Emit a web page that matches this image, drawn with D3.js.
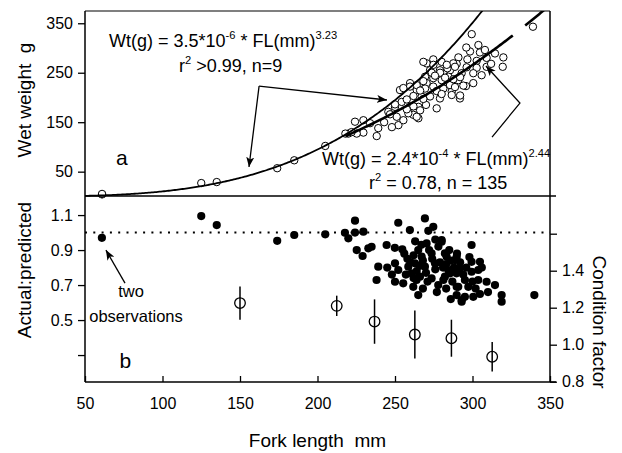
<!DOCTYPE html>
<html>
<head>
<meta charset="utf-8">
<script src="https://cdn.jsdelivr.net/npm/d3@7"></script>
<style>
  body { margin: 0; background: #fff; }
  svg text { font-family: "Liberation Sans", Arial, Helvetica, sans-serif; fill: #000; }
</style>
</head>
<body>
<svg id="chart" width="622" height="453"></svg>
<script>
// fork length (mm) vs wet weight (g), the n=9 set
var smallFish = [[61, 4], [61, 5], [125, 27], [135, 29], [174, 57], [185, 73], [205, 102], [218, 127], [222, 130]];
// the n=135 set
var bigFish = [
  [299.5, 328], [303.8, 306], [298.4, 293], [304.8, 291], [314.5, 289], [319.9, 281], [319.5, 262],
  [309.1, 280], [302.7, 274], [296.7, 277], [290.9, 281], [289.8, 268], [296.2, 261], [302.7, 260],
  [305.9, 245], [300.5, 229], [295.8, 223], [290.9, 235], [285.5, 255], [280.1, 272], [274.7, 277],
  [270.4, 269], [272.6, 255], [279.0, 255], [284.4, 242], [280.1, 235], [274.7, 239], [270.4, 229],
  [266.1, 229], [264.0, 215], [269.4, 218], [274.7, 222], [281.2, 218], [286.6, 212], [291.9, 198],
  [279.0, 198], [272.6, 202], [267.2, 202], [260.7, 195], [265.1, 181], [259.7, 181], [261.8, 165],
  [265.1, 158], [258.6, 168], [254.3, 191], [253.2, 215], [259.7, 229], [250.0, 181], [251.1, 161],
  [252.2, 144], [255.4, 154], [245.7, 171], [239.2, 138], [238.2, 122], [233.9, 148], [229.6, 154],
  [229.6, 129], [224.2, 151], [225.3, 127], [219.9, 127], [276.9, 178], [270.0, 185], [285.5, 225],
  [293.0, 249], [287.6, 269], [283.8, 259], [309.1, 262], [300.5, 249], [339, 343],
  [268.3, 272], [274.8, 266], [283.4, 266], [288.7, 262], [279.1, 250], [273.7, 250], [269.4, 242],
  [275.8, 244], [282.3, 240], [287.7, 237], [292, 241], [268.3, 233], [264, 225], [259.7, 222],
  [255.4, 219], [266.2, 214], [276.9, 213], [288.7, 221], [294.1, 224], [292, 204], [286.6, 205],
  [280.1, 207], [268.3, 197], [261.9, 203], [257.6, 196], [250, 186], [246.8, 166], [261.9, 182],
  [266.2, 174], [257.6, 176], [264, 161], [312, 268], [308, 296], [296, 301], [243, 150], [248, 140]
];
// actual:predicted, panel b
var ratioPts = [
  [60.9, 0.97], [125, 1.094], [135, 1.043], [174, 0.953], [185, 0.986], [205, 0.99],
  [217.7, 0.999], [224.2, 1.068], [219.9, 0.967], [224.2, 1.0], [229.6, 1.005], [225.3, 0.9],
  [229.1, 0.866], [232.8, 0.91], [252.1, 1.056], [259.6, 1.014], [269.3, 1.081], [274.7, 1.033],
  [271.5, 1.01], [234.9, 0.919], [244.6, 0.929], [249.9, 0.913], [254.7, 0.904], [239.2, 0.805],
  [238.1, 0.729], [250, 0.824], [252.1, 0.786], [250, 0.719], [255.3, 0.71], [265, 0.9],
  [270.4, 0.938], [280.1, 0.957], [262.9, 0.824], [267.2, 0.862], [273.6, 0.881], [282.2, 0.881],
  [288.7, 0.843], [260.7, 0.767], [266.1, 0.748], [261.8, 0.69], [265, 0.643], [273.6, 0.738],
  [277.9, 0.7], [284.4, 0.786], [290.8, 0.69], [293, 0.614], [258.6, 0.805], [269.3, 0.805],
  [275.8, 0.824], [263.9, 0.729], [282.2, 0.748], [289.7, 0.767], [280.1, 0.948], [299.4, 0.929],
  [283.3, 0.862], [289.8, 0.862], [299.4, 0.833], [304.8, 0.833], [291.9, 0.795], [299.4, 0.776],
  [303.7, 0.786], [285.5, 0.767], [281.2, 0.729], [295.1, 0.729], [303.7, 0.729], [309.1, 0.719],
  [314.5, 0.7], [289.8, 0.69], [297.3, 0.69], [289.8, 0.643], [295.1, 0.633], [300.5, 0.633],
  [304.8, 0.649], [293, 0.605], [318.8, 0.643], [318.8, 0.605], [339.9, 0.643],
  [256, 0.88], [258, 0.85], [260, 0.83], [262, 0.87], [264, 0.78], [266, 0.81], [268, 0.84],
  [270, 0.77], [272, 0.9], [274, 0.85], [276, 0.79], [278, 0.92], [279, 0.83], [281, 0.8],
  [283, 0.82], [285, 0.9], [286, 0.84], [287, 0.72], [288, 0.8], [290, 0.88], [292, 0.83],
  [294, 0.76], [296, 0.8], [298, 0.86], [300, 0.72], [302, 0.68], [306, 0.8], [310, 0.66],
  [271, 0.72], [268, 0.68], [262, 0.74], [257, 0.76], [277, 0.66], [283, 0.68], [286, 0.62],
  [263, 0.95], [267, 0.93], [276, 0.96], [245, 0.8], [248, 0.76]
];
// condition factor by length class (mean, half-range)
var cfFL = [150, 212.4, 236.8, 262.8, 286.4, 312.7];
var cfMean = [1.225, 1.21, 1.125, 1.055, 1.035, 0.935];
var cfErr = [0.09, 0.055, 0.12, 0.13, 0.10, 0.08];

var xTicks = [50, 100, 150, 200, 250, 300, 350];
var wtTicks = [50, 150, 250, 350];
var ratioTicks = [1.1, 0.9, 0.7, 0.5, 0.3];
var cfTicks = [0.8, 1.0, 1.2, 1.4, 1.6];

var fitSmall = { a: 3.5e-6, b: 3.23 };
var fitBig = { a: 2.4e-4, b: 2.44 };

var pLeft = 85, pRight = 550, pTop = 11, pMid = 196, pBottom = 382;

var svg = d3.select('#chart');

var x = d3.scaleLinear().domain([50, 350]).range([pLeft, pRight]);
var yWt = d3.scaleLinear().domain([0, 375]).range([196.4, 10.9]);
var yRatio = d3.scaleLinear().domain([0.146, 1.209]).range([pBottom, pMid]);
var yCF = d3.scaleLinear().domain([0.8, 1.8]).range([381.7, 196.7]);

var defs = svg.append('defs');
defs.append('clipPath').attr('id', 'clipTop')
  .append('rect').attr('x', pLeft).attr('y', pTop).attr('width', pRight - pLeft).attr('height', pMid - pTop + 4);
defs.append('marker')
  .attr('id', 'head')
  .attr('viewBox', '0 0 10 8')
  .attr('refX', 10).attr('refY', 4)
  .attr('markerWidth', 10).attr('markerHeight', 8)
  .attr('markerUnits', 'userSpaceOnUse')
  .attr('orient', 'auto')
  .append('path').attr('d', 'M0,0 L10,4 L0,8 L2.5,4 Z').attr('fill', '#000');

// ---------- panel a ----------
var pts = svg.append('g').attr('clip-path', 'url(#clipTop)');
pts.selectAll('circle')
  .data(bigFish.concat(smallFish))
  .enter().append('circle')
  .attr('cx', d => x(d[0]))
  .attr('cy', d => yWt(d[1]))
  .attr('r', 3.7)
  .attr('fill', '#fff')
  .attr('stroke', '#000')
  .attr('stroke-width', 1);

var line = d3.line().x(d => x(d[0])).y(d => yWt(d[1]));
function curve(fit, from, to) {
  return d3.range(from, to + 0.5, 1).map(fl => [fl, fit.a * Math.pow(fl, fit.b)]);
}
pts.append('path')
  .attr('d', line(curve(fitSmall, 50, 310)))
  .attr('fill', 'none').attr('stroke', '#000').attr('stroke-width', 1.8);
pts.append('path')
  .attr('d', line(curve(fitBig, 218, 326)))
  .attr('fill', 'none').attr('stroke', '#000').attr('stroke-width', 2.6);
pts.append('path')
  .attr('d', line(curve(fitBig, 334, 348)))
  .attr('fill', 'none').attr('stroke', '#000').attr('stroke-width', 2.6);

// ---------- panel b ----------
svg.append('line')
  .attr('x1', pLeft).attr('x2', pRight)
  .attr('y1', yRatio(1)).attr('y2', yRatio(1))
  .attr('stroke', '#000').attr('stroke-width', 2)
  .attr('stroke-dasharray', '2 6.3');

svg.append('g').selectAll('circle')
  .data(ratioPts)
  .enter().append('circle')
  .attr('cx', d => x(d[0]))
  .attr('cy', d => yRatio(d[1]))
  .attr('r', 4.1)
  .attr('fill', '#000');

var cf = svg.append('g');
cfFL.forEach(function (fl, i) {
  cf.append('line')
    .attr('x1', x(fl)).attr('x2', x(fl))
    .attr('y1', yCF(cfMean[i] - cfErr[i])).attr('y2', yCF(cfMean[i] + cfErr[i]))
    .attr('stroke', '#000').attr('stroke-width', 1.5);
  cf.append('circle')
    .attr('cx', x(fl)).attr('cy', yCF(cfMean[i]))
    .attr('r', 5.3)
    .attr('fill', 'none').attr('stroke', '#000').attr('stroke-width', 1.3);
});

// ---------- axes ----------
function styleAxis(g) {
  g.attr('font-family', null).attr('font-size', null);
  g.select('.domain').remove();
  g.selectAll('text').attr('font-size', 16);
  g.selectAll('line').attr('stroke', '#000').attr('stroke-width', 1.3);
}
svg.append('g').attr('transform', 'translate(' + pLeft + ',0)')
  .call(d3.axisLeft(yWt).tickValues(wtTicks).tickSize(7).tickPadding(5))
  .call(styleAxis);
svg.append('g').attr('transform', 'translate(' + pLeft + ',0)')
  .call(d3.axisLeft(yRatio).tickValues(ratioTicks).tickSize(7).tickPadding(5)
    .tickFormat(d => d < 0.4 ? '' : d3.format('.1f')(d)))
  .call(styleAxis);
svg.append('g').attr('transform', 'translate(' + pRight + ',0)')
  .call(d3.axisRight(yCF).tickValues(cfTicks).tickSize(7).tickPadding(5)
    .tickFormat(d => d > 1.5 ? '' : d3.format('.1f')(d)))
  .call(styleAxis);
svg.append('g').attr('transform', 'translate(0,' + pBottom + ')')
  .call(d3.axisBottom(x).tickValues(xTicks).tickSize(-6).tickPadding(16))
  .call(styleAxis);
// unlabeled ticks carry empty text nodes; drop them
svg.selectAll('.tick text').filter(function () { return this.textContent === ''; }).remove();

// frame
var frame = svg.append('g').attr('stroke', '#000').attr('fill', 'none');
frame.append('line').attr('x1', pLeft).attr('x2', pRight).attr('y1', pTop).attr('y2', pTop).attr('stroke-width', 1.2);
frame.append('line').attr('x1', pLeft).attr('x2', pLeft).attr('y1', pTop).attr('y2', pBottom).attr('stroke-width', 1.5);
frame.append('line').attr('x1', pRight).attr('x2', pRight).attr('y1', pTop).attr('y2', pBottom).attr('stroke-width', 1.5);
frame.append('line').attr('x1', pLeft).attr('x2', pRight + 6).attr('y1', pMid).attr('y2', pMid).attr('stroke-width', 1.6);
frame.append('line').attr('x1', pLeft).attr('x2', pRight + 6).attr('y1', pBottom).attr('y2', pBottom).attr('stroke-width', 1.5);

// ---------- annotations ----------
function supText(g, px, py, parts, size) {
  var t = g.append('text').attr('x', px).attr('y', py).attr('font-size', size);
  var raised = false;
  parts.forEach(function (p) {
    var ts = t.append('tspan').text(p.s);
    if (p.sup) {
      ts.attr('font-size', size * 0.62).attr('dy', -size * 0.42);
      raised = true;
    } else if (raised) {
      ts.attr('dy', size * 0.42);
      raised = false;
    }
  });
  return t;
}
var ann = svg.append('g');
supText(ann, x(65.5), yWt(302), [{ s: 'Wt(g) = 3.5*10' }, { s: '-6', sup: true }, { s: ' * FL(mm)' }, { s: '3.23', sup: true }], 18);
supText(ann, x(110.6), yWt(251.5), [{ s: 'r' }, { s: '2', sup: true }, { s: ' >0.99, n=9' }], 18);
supText(ann, x(202.9), yWt(63.5), [{ s: 'Wt(g) = 2.4*10' }, { s: '-4', sup: true }, { s: ' * FL(mm)' }, { s: '2.44', sup: true }], 18);
supText(ann, x(233.2), yWt(15), [{ s: 'r' }, { s: '2', sup: true }, { s: ' = 0.78, n = 135' }], 18);

var arrow = d3.line().x(d => x(d[0])).y(d => yWt(d[1]));
ann.append('path').attr('d', arrow([[162.3, 223], [244.8, 194.9]]))
  .attr('stroke', '#000').attr('stroke-width', 1.3).attr('fill', 'none').attr('marker-end', 'url(#head)');
ann.append('path').attr('d', arrow([[162.3, 223], [155.8, 59.4]]))
  .attr('stroke', '#000').attr('stroke-width', 1.3).attr('fill', 'none').attr('marker-end', 'url(#head)');
ann.append('path').attr('d', arrow([[312.6, 120], [330.6, 188.7], [308.7, 263.6]]))
  .attr('stroke', '#000').attr('stroke-width', 1.3).attr('fill', 'none').attr('marker-end', 'url(#head)');

ann.append('text').attr('x', x(70)).attr('y', yWt(63.5)).attr('font-size', 21).text('a');
ann.append('text').attr('x', x(72.3)).attr('y', yRatio(0.226)).attr('font-size', 21).text('b');

ann.append('text').attr('x', x(79.7)).attr('y', yRatio(0.631)).attr('font-size', 16.5)
  .attr('text-anchor', 'middle').text('two');
ann.append('text').attr('x', x(82.9)).attr('y', yRatio(0.489)).attr('font-size', 16.5)
  .attr('text-anchor', 'middle').text('observations');
ann.append('path')
  .attr('d', 'M' + x(75.8) + ',' + yRatio(0.711) + 'L' + x(63.5) + ',' + yRatio(0.9))
  .attr('stroke', '#000').attr('stroke-width', 1.3).attr('marker-end', 'url(#head)');

// axis titles
svg.append('text').attr('transform', 'translate(31,100) rotate(-90)')
  .attr('text-anchor', 'middle').attr('font-size', 19).text('Wet weight\u00a0 g');
svg.append('text').attr('transform', 'translate(31,270) rotate(-90)')
  .attr('text-anchor', 'middle').attr('font-size', 19).text('Actual:predicted');
svg.append('text').attr('transform', 'translate(593,322) rotate(90)')
  .attr('text-anchor', 'middle').attr('font-size', 19).text('Condition factor');
svg.append('text').attr('x', (pLeft + pRight) / 2).attr('y', 447)
  .attr('text-anchor', 'middle').attr('font-size', 19).text('Fork length\u00a0 mm');
</script>
</body>
</html>
